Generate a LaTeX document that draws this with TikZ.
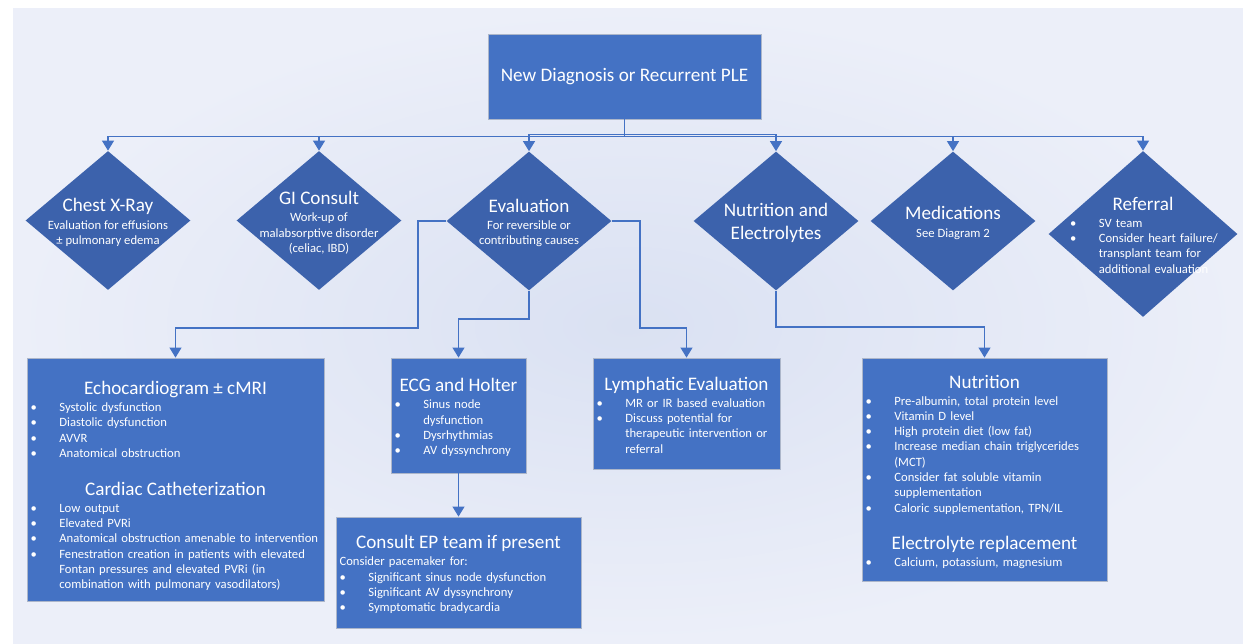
\documentclass[tikz,border=0pt]{standalone}
\usepackage{fontspec}
\setmainfont{Carlito}
\usetikzlibrary{shapes.geometric, arrows.meta}

\definecolor{bgin}{RGB}{218,225,242}
\definecolor{bgout}{RGB}{236,239,249}
\definecolor{boxblue}{RGB}{68,114,196}
\definecolor{diablue}{RGB}{60,98,172}
\definecolor{edgegray}{RGB}{172,182,202}
\definecolor{linkblue}{RGB}{68,114,196}

\newcommand\titlefont{\fontsize{10.9}{13}\selectfont}
\newcommand\bodyfont{\fontsize{7.2}{8.7}\selectfont}
\newcommand\btitle[1]{{\centering\titlefont #1\par}\vspace{1pt}}
\newcommand\bitem[1]{\par\hangindent=16.4pt\hangafter=1\noindent\makebox[16.4pt][l]{\textbullet}#1\par}

\tikzset{
  box/.style={draw=edgegray, line width=0.5pt, fill=boxblue, text=white, font=\bodyfont, align=left, inner xsep=0.07cm, inner ysep=0pt},
  dia/.style={diamond, fill=diablue, inner sep=0pt, minimum width=3.3cm, minimum height=2.78cm},
  dtext/.style={text=white, font=\bodyfont, align=center, inner sep=0pt, yshift=-0.04cm},
  link/.style={draw=linkblue, line width=0.7pt, -{Triangle[length=5.7pt,width=6.8pt]}}
}

\begin{document}
\begin{tikzpicture}[x=0.02cm, y=-0.02cm]
  \useasboundingbox (0,0) rectangle (1243,643);
  \shade[inner color=bgin, outer color=bgout] (13,8) rectangle (1243,643);
  % top box
  \node[box, font=\titlefont, align=center, minimum width=5.46cm, minimum height=1.7cm] (ple) at (624.5,76.5) {New Diagnosis or Recurrent PLE};
  % diamonds
  \node[dia] (xray) at (108,220.5) {};
  \node[dtext] (xray-t) at (xray) {{\titlefont Chest X-Ray}\\[1.3pt] Evaluation for effusions\\ ± pulmonary edema};
  \node[dia] (gi) at (319,220.5) {};
  \node[dtext] (gi-t) at (gi) {{\titlefont GI Consult}\\[1.3pt] Work-up of\\ malabsorptive disorder\\ (celiac, IBD)};
  \node[dia] (evaln) at (529,221) {};
  \node[dtext] (evaln-t) at (evaln) {{\titlefont Evaluation}\\[1.3pt] For reversible or\\ contributing causes};
  \node[dia] (nutd) at (776,221) {};
  \node[dtext, font=\titlefont] (nutd-t) at (nutd) {Nutrition and\\ Electrolytes};
  \node[dia] (med) at (953,221) {};
  \node[dtext] (med-t) at (med) {{\titlefont Medications}\\[1.3pt] See Diagram 2};
  \node[dia, minimum width=3.78cm, minimum height=3.32cm] (refer) at (1143,234) {};
  \node[dtext, text width=2.92cm, align=left] (refer-t) at (1143,233) {\btitle{Referral}\bitem{SV team}\bitem{\mbox{Consider heart failure/}\newline transplant team for\newline \mbox{additional evaluation}}};
  % boxes
  \node[box, text width=5.8cm, minimum height=4.86cm] (echo) at (175.5,479.5) {
    \btitle{Echocardiogram ± cMRI}
    \bitem{Systolic dysfunction}
    \bitem{Diastolic dysfunction}
    \bitem{AVVR}
    \bitem{Anatomical obstruction}
    \vspace{8.5pt}
    \btitle{Cardiac Catheterization}
    \bitem{Low output}
    \bitem{Elevated PVRi}
    \bitem{Anatomical obstruction amenable to intervention}
    \bitem{Fenestration creation in patients with elevated\newline Fontan pressures and elevated PVRi (in\newline combination with pulmonary vasodilators)}
    \vspace{-7.4pt}};
  \node[box, text width=2.56cm, minimum height=2.3cm] (ecg) at (458.5,415.5) {
    \btitle{ECG and Holter}
    \bitem{Sinus node\newline dysfunction}
    \bitem{Dysrhythmias}
    \bitem{AV dyssynchrony}
    \vspace{-2.3pt}};
  \node[box, text width=3.6cm, minimum height=2.22cm] (lymph) at (686.5,413.5) {
    \btitle{Lymphatic Evaluation}
    \bitem{MR or IR based evaluation}
    \bitem{Discuss potential for\newline therapeutic intervention or\newline referral}
    \vspace{-1.7pt}};
  \node[box, text width=4.76cm, minimum height=2.22cm] (ep) at (458.5,572.5) {
    \btitle{Consult EP team if present}
    Consider pacemaker for:\par
    \bitem{Significant sinus node dysfunction}
    \bitem{Significant AV dyssynchrony}
    \bitem{Symptomatic bradycardia}
    \vspace{-2.3pt}};
  \node[box, text width=4.76cm, minimum height=4.46cm] (nutb) at (984.5,469.5) {
    \btitle{Nutrition}
    \bitem{Pre-albumin, total protein level}
    \bitem{Vitamin D level}
    \bitem{High protein diet (low fat)}
    \bitem{Increase median chain triglycerides\newline (MCT)}
    \bitem{Consider fat soluble vitamin\newline supplementation}
    \bitem{Caloric supplementation, TPN/IL}
    \vspace{8.5pt}
    \btitle{Electrolyte replacement}
    \bitem{Calcium, potassium, magnesium}
    \vspace{-2.8pt}};
  % connectors
  \foreach \tgt in {evaln,nutd} \draw[link] (ple.south) -- ++(0,15) -| (\tgt.north);
  \foreach \tgt in {xray,gi,med,refer} \draw[link] (ple.south) -- ++(0,17) -| (\tgt.north);
  \draw[link] (evaln.west) -| (418,328) -| (echo.north);
  \draw[link] (evaln.south) -- (529,319) -| (ecg.north);
  \draw[link] (evaln.east) -| (640,328) -| (lymph.north);
  \draw[link] (ecg.south) -- (ep.north);
  \draw[link] (nutd.south) -- (776,327) -| (nutb.north);
\end{tikzpicture}
\end{document}
